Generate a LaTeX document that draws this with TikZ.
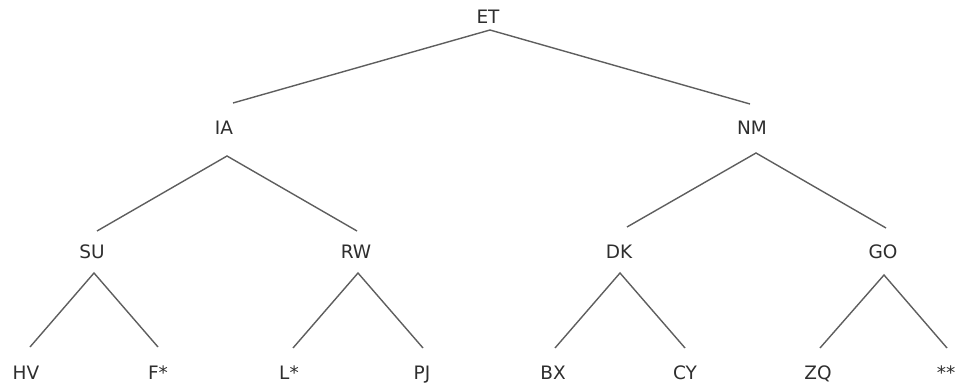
\documentclass[tikz,border=0pt]{standalone}
\usepackage{fontspec}
\setmainfont{DejaVu Sans}
\usetikzlibrary{calc}
\definecolor{txt}{HTML}{2E2E2E}
\definecolor{edge}{HTML}{5E5E5E}
\begin{document}
\begin{tikzpicture}[x=1pt,y=-1pt,
  lbl/.style={inner sep=0pt,text height=13pt,text depth=0pt,font=\fontsize{18.5}{20}\selectfont,text=txt},
  conn/.style={draw=edge,line width=1.4pt}]
\useasboundingbox (0,0) rectangle (957,387);
\node[lbl] (ET) at (488,17) {ET};
\node[lbl] (IA) at (224,128) {IA};
\node[lbl] (NM) at (752,128) {NM};
\node[lbl] (SU) at (92,252) {SU};
\node[lbl] (RW) at (356,252) {RW};
\node[lbl] (DK) at (619,252) {DK};
\node[lbl] (GO) at (883,252) {GO};
\node[lbl] (HV) at (26,373) {HV};
\node[lbl] (F) at (158,373) {F*};
\node[lbl] (L) at (289,373) {L*};
\node[lbl] (PJ) at (422,373) {PJ};
\node[lbl] (BX) at (553,373) {BX};
\node[lbl] (CY) at (685,373) {CY};
\node[lbl] (ZQ) at (818,373) {ZQ};
\node[lbl] (SS) at (946,373) {**};
\draw[conn] ($(IA)+(9,-25)$) -- ($(ET)+(2,13)$) -- ($(NM)+(-2,-24)$);
\draw[conn] ($(SU)+(5,-21)$) -- ($(IA)+(3,28)$) -- ($(RW)+(1,-21)$);
\draw[conn] ($(DK)+(8,-25)$) -- ($(NM)+(4,25)$) -- ($(GO)+(3,-24)$);
\draw[conn] ($(HV)+(4,-26)$) -- ($(SU)+(2,21)$) -- ($(F)+(0,-26)$);
\draw[conn] ($(L)+(4,-25)$) -- ($(RW)+(2,21)$) -- ($(PJ)+(1,-25)$);
\draw[conn] ($(BX)+(2,-25)$) -- ($(DK)+(1,21)$) -- ($(CY)+(0,-25)$);
\draw[conn] ($(ZQ)+(2,-25)$) -- ($(GO)+(1,23)$) -- ($(SS)+(1,-25)$);
\end{tikzpicture}
\end{document}
